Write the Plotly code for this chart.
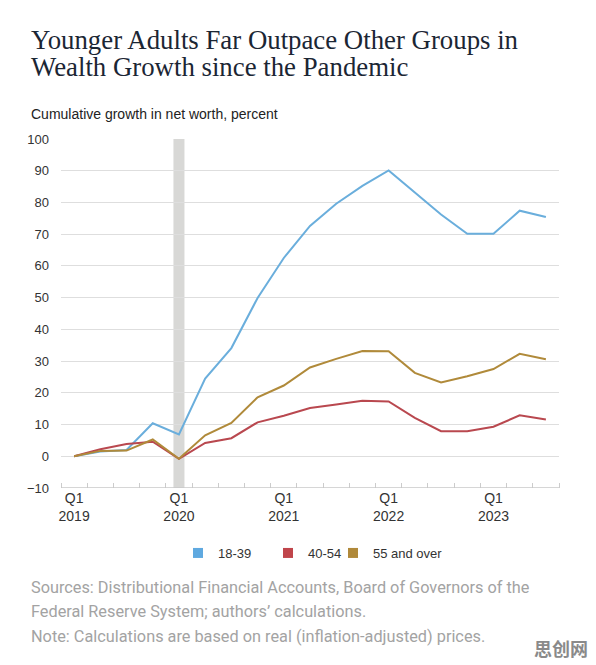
import plotly.graph_objects as go

# quarters 2019Q1 .. 2023Q3
quarters = ["2019Q1", "2019Q2", "2019Q3", "2019Q4",
            "2020Q1", "2020Q2", "2020Q3", "2020Q4",
            "2021Q1", "2021Q2", "2021Q3", "2021Q4",
            "2022Q1", "2022Q2", "2022Q3", "2022Q4",
            "2023Q1", "2023Q2", "2023Q3"]

young = [0, 1.5, 2.0, 10.4, 6.9, 24.5, 34.1, 49.9, 62.5, 72.6, 79.6, 85.2,
         90.1, 83.2, 76.2, 70.1, 70.1, 77.4, 75.4]
middle = [0, 2.2, 3.9, 4.6, -0.8, 4.2, 5.7, 10.7, 12.8, 15.2, 16.3, 17.5,
          17.3, 12.1, 7.9, 7.9, 9.3, 12.9, 11.6]
older = [0, 1.7, 1.8, 5.3, -0.8, 6.6, 10.5, 18.6, 22.3, 28.0, 30.7, 33.2,
         33.1, 26.3, 23.3, 25.2, 27.5, 32.3, 30.6]

series_names = ["18-39", "40-54", "55 and over"]
line_colors = ["#6aaedc", "#b9484f", "#b08a3a"]
legend_colors = ["#5fa9e0", "#c0454b", "#b0893a"]

recession_q = "2020Q1"

title_lines = ["Younger Adults Far Outpace Other Groups in",
               "Wealth Growth since the Pandemic"]
subtitle = "Cumulative growth in net worth, percent"
footer = ["Sources: Distributional Financial Accounts, Board of Governors of the",
          "Federal Reserve System; authors\u2019 calculations.",
          "Note: Calculations are based on real (inflation-adjusted) prices."]

xs = list(range(len(quarters)))
label_pos = [i for i, q in enumerate(quarters) if q.endswith("Q1")]
label_text = ["Q1<br>" + quarters[i][:4] for i in label_pos]

# page has an 8px body margin, so the figure is 8px smaller than the window
W, H = 588, 657
L, R, T, B = 53, 37, 131, 177
PW, PH = W - L - R, H - T - B


def px(xpix):
    return (xpix - L) / PW


def py(ypix):
    return 1 - (ypix - T) / PH


fig = go.Figure()

# grey band for pandemic quarter
ri = quarters.index(recession_q)
fig.add_shape(type="rect", xref="x", yref="paper", x0=ri - 0.21, x1=ri + 0.21,
              y0=0, y1=1, fillcolor="#d8d8d6", line_width=0, layer="below")

legends = ["legend", "legend2", "legend3"]
for vals, name, lc, mc, lg in zip([young, middle, older], series_names,
                                  line_colors, legend_colors, legends):
    fig.add_trace(go.Scatter(x=xs, y=vals, mode="lines", name=name,
                             line=dict(color=lc, width=2), showlegend=False))
    # square legend swatch
    fig.add_trace(go.Scatter(x=[None], y=[None], mode="markers", name=name,
                             marker=dict(symbol="square", size=10, color=mc),
                             legend=lg))

leg_common = dict(orientation="h", yanchor="middle", y=py(545), xanchor="left",
                  bgcolor="rgba(0,0,0,0)",
                  font=dict(family="Liberation Sans, Arial", size=13, color="#333333"))

fig.update_layout(
    width=W, height=H,
    paper_bgcolor="white", plot_bgcolor="white",
    margin=dict(l=L, r=R, t=T, b=B),
    xaxis=dict(
        range=[-0.5, len(quarters) - 0.5],
        tickmode="array", tickvals=label_pos, ticktext=label_text,
        ticks="", showgrid=False, zeroline=False,
        showline=False,
        tickfont=dict(family="Liberation Sans, Arial", size=14, color="#333333"),
        minor=dict(tickmode="linear", tick0=-0.5, dtick=1, ticks="inside",
                   ticklen=5, tickcolor="#cccccc", tickwidth=1, showgrid=False),
        fixedrange=True,
    ),
    yaxis=dict(
        range=[-10, 100], dtick=10, tick0=0,
        showgrid=True, gridcolor="#dedede", gridwidth=1.2,
        zeroline=False, showline=False, ticks="",
        ticklabelstandoff=11,
        tickfont=dict(family="Liberation Sans, Arial", size=13, color="#333333"),
    ),
    legend=dict(leg_common, x=px(170)),
    legend2=dict(leg_common, x=px(260)),
    legend3=dict(leg_common, x=px(325)),
    showlegend=True,
)

# bottom axis line at -10
fig.add_shape(type="line", xref="paper", yref="y", x0=0, x1=1, y0=-10, y1=-10,
              line=dict(color="#c8c8c8", width=1.5))

for i, line in enumerate(title_lines):
    fig.add_annotation(text=line, xref="paper", yref="paper",
                       x=px(21), y=py(32 + i * 27), xanchor="left", yanchor="middle",
                       showarrow=False,
                       font=dict(family="Liberation Serif, Georgia, serif", size=26.8,
                                 color="#1b2634"))

fig.add_annotation(text=subtitle, xref="paper", yref="paper", x=px(21), y=py(106),
                   xanchor="left", yanchor="middle", showarrow=False,
                   font=dict(family="Liberation Sans, Arial", size=14, color="#222222"))

for i, line in enumerate(footer):
    fig.add_annotation(text=line, xref="paper", yref="paper",
                       x=px(21), y=py(579 + i * 24.5),
                       xanchor="left", yanchor="middle", showarrow=False,
                       font=dict(family="Roboto, sans-serif", size=16.3, color="#a3a3a3"))

fig.add_annotation(text="<b>思创网</b>", xref="paper", yref="paper",
                   x=px(582), y=py(640), xanchor="right", yanchor="middle",
                   showarrow=False,
                   font=dict(family="Noto Sans CJK SC", size=18, color="#8a8a8a"))

fig.write_html("out.html")
